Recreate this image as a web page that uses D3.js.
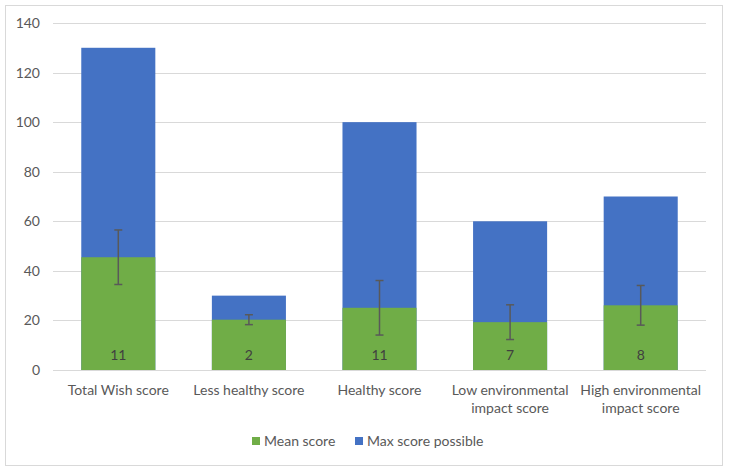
<!DOCTYPE html>
<html><head><meta charset="utf-8">
<script src="https://cdn.jsdelivr.net/npm/d3@7"></script>
<style>body{margin:0;background:#fff;} text{font-family:Lato,"Open Sans",sans-serif;}</style>
</head><body><svg id="c" width="730" height="472"></svg>
<script>
const categories = [["Total Wish score"],["Less healthy score"],["Healthy score"],["Low environmental","impact score"],["High environmental","impact score"]];
const meanScore = [45.5, 20.3, 25.1, 19.3, 26.1];
const maxScore = [130, 30, 100, 60, 70];
const sdValues = [11, 2, 11, 7, 8];
const yTicks = [0,20,40,60,80,100,120,140];
const seriesNames = ["Mean score","Max score possible"];
const colors = ["#70AD47","#4472C4"];

const svg = d3.select("#c");
svg.append("rect").attr("x",5.5).attr("y",5.5).attr("width",717).attr("height",460)
  .attr("fill","#fff").attr("stroke","#D9D9D9");

const x = d3.scaleBand().domain(d3.range(categories.length)).range([53,706]).padding(0);
const y = d3.scaleLinear().domain([0,140]).range([370,23]);
const bw = x.bandwidth()*0.567;

const g = svg.append("g");
const yAxis = d3.axisLeft(y).tickValues(yTicks).tickSize(0).tickPadding(13);
const ya = g.append("g").attr("transform","translate(53,0)").call(yAxis);
ya.select(".domain").remove();
ya.selectAll("text").attr("font-size",14).attr("fill","#595959").attr("font-family","Lato,sans-serif");
g.selectAll("line.grid").data(yTicks).enter().append("line")
  .attr("x1",53).attr("x2",706).attr("y1",d=>Math.round(y(d))+0.5).attr("y2",d=>Math.round(y(d))+0.5)
  .attr("stroke","#D9D9D9").attr("stroke-width",1);

g.selectAll("rect.max").data(maxScore).enter().append("rect")
  .attr("x",(d,i)=>x(i)+x.bandwidth()/2-bw/2).attr("width",bw)
  .attr("y",d=>y(d)).attr("height",d=>y(0)-y(d)).attr("fill",colors[1]);
g.selectAll("rect.mean").data(meanScore).enter().append("rect")
  .attr("x",(d,i)=>x(i)+x.bandwidth()/2-bw/2).attr("width",bw)
  .attr("y",d=>y(d)).attr("height",d=>y(0)-y(d)).attr("fill",colors[0]);

const eb = g.selectAll("g.eb").data(meanScore).enter().append("g")
  .attr("transform",(d,i)=>`translate(${x(i)+x.bandwidth()/2},0)`);
eb.append("line").attr("x1",0).attr("x2",0).attr("y1",(d,i)=>y(d+sdValues[i])).attr("y2",(d,i)=>y(d-sdValues[i]))
  .attr("stroke","#595959").attr("stroke-width",1.5);
eb.append("line").attr("x1",-4).attr("x2",4).attr("y1",(d,i)=>y(d+sdValues[i])).attr("y2",(d,i)=>y(d+sdValues[i]))
  .attr("stroke","#595959").attr("stroke-width",1.5);
eb.append("line").attr("x1",-4).attr("x2",4).attr("y1",(d,i)=>y(d-sdValues[i])).attr("y2",(d,i)=>y(d-sdValues[i]))
  .attr("stroke","#595959").attr("stroke-width",1.5);

g.selectAll("text.lab").data(sdValues).enter().append("text")
  .attr("x",(d,i)=>x(i)+x.bandwidth()/2).attr("y",360).attr("text-anchor","middle")
  .attr("font-size",14).attr("fill","#404040").text(d=>d);

const xl = g.selectAll("text.xl").data(categories).enter().append("text")
  .attr("text-anchor","middle").attr("font-size",14).attr("fill","#595959")
  .attr("x",(d,i)=>x(i)+x.bandwidth()/2).attr("y",395);
xl.selectAll("tspan").data(d=>d).enter().append("tspan")
  .attr("x",function(){return d3.select(this.parentNode).attr("x");})
  .attr("dy",(d,j)=>j===0?0:18).text(d=>d);

const leg = svg.append("g");
const lx = [252, 355];
seriesNames.forEach((n,i)=>{
  leg.append("rect").attr("x",lx[i]).attr("y",437).attr("width",8).attr("height",8).attr("fill",colors[i]);
  leg.append("text").attr("x",lx[i]+12).attr("y",446).attr("font-size",14).attr("fill","#595959").text(n);
});
</script></body></html>
